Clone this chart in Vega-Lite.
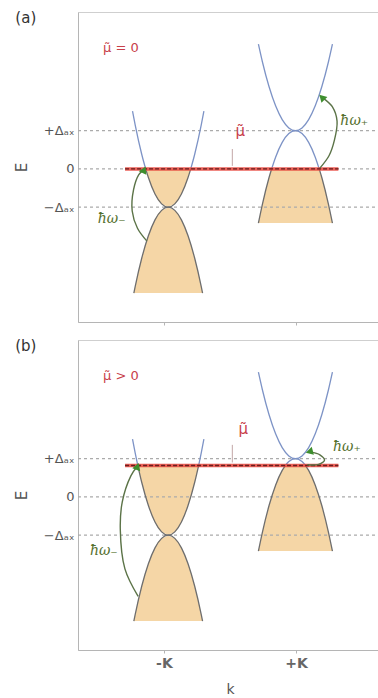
{
"$schema": "https://vega.github.io/schema/vega-lite/v6.json",
"padding": {"left": 13, "top": 10, "right": 0, "bottom": 0},
"spacing": 12,
"datasets": {
"bands": [
{"p":"a","g":"a1","st":"empty","k":-1.475,"E":1.51},{"p":"a","g":"a1","st":"empty","k":-1.435,"E":1.15},{"p":"a","g":"a1","st":"empty","k":-1.335,"E":0.376},{"p":"a","g":"a1","st":"empty","k":-1.276,"E":0},
{"p":"a","g":"a2","st":"filled","k":-1.276,"E":0},{"p":"a","g":"a2","st":"filled","k":-1.235,"E":-0.226},{"p":"a","g":"a2","st":"filled","k":-1.135,"E":-0.656},{"p":"a","g":"a2","st":"filled","k":-1.035,"E":-0.914},{"p":"a","g":"a2","st":"filled","k":-0.935,"E":-1},{"p":"a","g":"a2","st":"filled","k":-0.835,"E":-0.914},{"p":"a","g":"a2","st":"filled","k":-0.735,"E":-0.656},{"p":"a","g":"a2","st":"filled","k":-0.635,"E":-0.226},{"p":"a","g":"a2","st":"filled","k":-0.594,"E":0},
{"p":"a","g":"a3","st":"empty","k":-0.594,"E":0},{"p":"a","g":"a3","st":"empty","k":-0.535,"E":0.376},{"p":"a","g":"a3","st":"empty","k":-0.435,"E":1.15},{"p":"a","g":"a3","st":"empty","k":-0.395,"E":1.51},
{"p":"a","g":"a4","st":"filled","k":-1.455,"E":-3.244},{"p":"a","g":"a4","st":"filled","k":-1.435,"E":-3.075},{"p":"a","g":"a4","st":"filled","k":-1.335,"E":-2.328},{"p":"a","g":"a4","st":"filled","k":-1.235,"E":-1.747},{"p":"a","g":"a4","st":"filled","k":-1.135,"E":-1.332},{"p":"a","g":"a4","st":"filled","k":-1.035,"E":-1.083},{"p":"a","g":"a4","st":"filled","k":-0.935,"E":-1},{"p":"a","g":"a4","st":"filled","k":-0.835,"E":-1.083},{"p":"a","g":"a4","st":"filled","k":-0.735,"E":-1.332},{"p":"a","g":"a4","st":"filled","k":-0.635,"E":-1.747},{"p":"a","g":"a4","st":"filled","k":-0.535,"E":-2.328},{"p":"a","g":"a4","st":"filled","k":-0.435,"E":-3.075},{"p":"a","g":"a4","st":"filled","k":-0.415,"E":-3.244},
{"p":"a","g":"a5","st":"empty","k":0.43,"E":3.258},{"p":"a","g":"a5","st":"empty","k":0.49,"E":2.8},{"p":"a","g":"a5","st":"empty","k":0.59,"E":2.152},{"p":"a","g":"a5","st":"empty","k":0.69,"E":1.648},{"p":"a","g":"a5","st":"empty","k":0.79,"E":1.288},{"p":"a","g":"a5","st":"empty","k":0.89,"E":1.072},{"p":"a","g":"a5","st":"empty","k":0.99,"E":1},{"p":"a","g":"a5","st":"empty","k":1.09,"E":1.072},{"p":"a","g":"a5","st":"empty","k":1.19,"E":1.288},{"p":"a","g":"a5","st":"empty","k":1.29,"E":1.648},{"p":"a","g":"a5","st":"empty","k":1.39,"E":2.152},{"p":"a","g":"a5","st":"empty","k":1.49,"E":2.8},{"p":"a","g":"a5","st":"empty","k":1.55,"E":3.258},
{"p":"a","g":"a6","st":"filled","k":0.43,"E":-1.415},{"p":"a","g":"a6","st":"filled","k":0.49,"E":-0.925},{"p":"a","g":"a6","st":"filled","k":0.59,"E":-0.232},{"p":"a","g":"a6","st":"filled","k":0.63,"E":0},
{"p":"a","g":"a7","st":"empty","k":0.63,"E":0},{"p":"a","g":"a7","st":"empty","k":0.69,"E":0.307},{"p":"a","g":"a7","st":"empty","k":0.79,"E":0.692},{"p":"a","g":"a7","st":"empty","k":0.89,"E":0.923},{"p":"a","g":"a7","st":"empty","k":0.99,"E":1},{"p":"a","g":"a7","st":"empty","k":1.09,"E":0.923},{"p":"a","g":"a7","st":"empty","k":1.19,"E":0.692},{"p":"a","g":"a7","st":"empty","k":1.29,"E":0.307},{"p":"a","g":"a7","st":"empty","k":1.35,"E":0},
{"p":"a","g":"a8","st":"filled","k":1.35,"E":0},{"p":"a","g":"a8","st":"filled","k":1.39,"E":-0.232},{"p":"a","g":"a8","st":"filled","k":1.49,"E":-0.925},{"p":"a","g":"a8","st":"filled","k":1.55,"E":-1.415},
{"p":"b","g":"b1","st":"empty","k":-1.475,"E":1.51},{"p":"b","g":"b1","st":"empty","k":-1.435,"E":1.15},{"p":"b","g":"b1","st":"empty","k":-1.395,"E":0.82},
{"p":"b","g":"b2","st":"filled","k":-1.395,"E":0.82},{"p":"b","g":"b2","st":"filled","k":-1.335,"E":0.376},{"p":"b","g":"b2","st":"filled","k":-1.235,"E":-0.226},{"p":"b","g":"b2","st":"filled","k":-1.135,"E":-0.656},{"p":"b","g":"b2","st":"filled","k":-1.035,"E":-0.914},{"p":"b","g":"b2","st":"filled","k":-0.935,"E":-1},{"p":"b","g":"b2","st":"filled","k":-0.835,"E":-0.914},{"p":"b","g":"b2","st":"filled","k":-0.735,"E":-0.656},{"p":"b","g":"b2","st":"filled","k":-0.635,"E":-0.226},{"p":"b","g":"b2","st":"filled","k":-0.535,"E":0.376},{"p":"b","g":"b2","st":"filled","k":-0.475,"E":0.82},
{"p":"b","g":"b3","st":"empty","k":-0.475,"E":0.82},{"p":"b","g":"b3","st":"empty","k":-0.435,"E":1.15},{"p":"b","g":"b3","st":"empty","k":-0.395,"E":1.51},
{"p":"b","g":"b4","st":"filled","k":-1.455,"E":-3.244},{"p":"b","g":"b4","st":"filled","k":-1.435,"E":-3.075},{"p":"b","g":"b4","st":"filled","k":-1.335,"E":-2.328},{"p":"b","g":"b4","st":"filled","k":-1.235,"E":-1.747},{"p":"b","g":"b4","st":"filled","k":-1.135,"E":-1.332},{"p":"b","g":"b4","st":"filled","k":-1.035,"E":-1.083},{"p":"b","g":"b4","st":"filled","k":-0.935,"E":-1},{"p":"b","g":"b4","st":"filled","k":-0.835,"E":-1.083},{"p":"b","g":"b4","st":"filled","k":-0.735,"E":-1.332},{"p":"b","g":"b4","st":"filled","k":-0.635,"E":-1.747},{"p":"b","g":"b4","st":"filled","k":-0.535,"E":-2.328},{"p":"b","g":"b4","st":"filled","k":-0.435,"E":-3.075},{"p":"b","g":"b4","st":"filled","k":-0.415,"E":-3.244},
{"p":"b","g":"b5","st":"empty","k":0.43,"E":3.258},{"p":"b","g":"b5","st":"empty","k":0.49,"E":2.8},{"p":"b","g":"b5","st":"empty","k":0.59,"E":2.152},{"p":"b","g":"b5","st":"empty","k":0.69,"E":1.648},{"p":"b","g":"b5","st":"empty","k":0.79,"E":1.288},{"p":"b","g":"b5","st":"empty","k":0.89,"E":1.072},{"p":"b","g":"b5","st":"empty","k":0.99,"E":1},{"p":"b","g":"b5","st":"empty","k":1.09,"E":1.072},{"p":"b","g":"b5","st":"empty","k":1.19,"E":1.288},{"p":"b","g":"b5","st":"empty","k":1.29,"E":1.648},{"p":"b","g":"b5","st":"empty","k":1.39,"E":2.152},{"p":"b","g":"b5","st":"empty","k":1.49,"E":2.8},{"p":"b","g":"b5","st":"empty","k":1.55,"E":3.258},
{"p":"b","g":"b6","st":"filled","k":0.43,"E":-1.415},{"p":"b","g":"b6","st":"filled","k":0.49,"E":-0.925},{"p":"b","g":"b6","st":"filled","k":0.59,"E":-0.232},{"p":"b","g":"b6","st":"filled","k":0.69,"E":0.307},{"p":"b","g":"b6","st":"filled","k":0.79,"E":0.692},{"p":"b","g":"b6","st":"filled","k":0.837,"E":0.82},
{"p":"b","g":"b7","st":"empty","k":0.837,"E":0.82},{"p":"b","g":"b7","st":"empty","k":0.89,"E":0.923},{"p":"b","g":"b7","st":"empty","k":0.99,"E":1},{"p":"b","g":"b7","st":"empty","k":1.09,"E":0.923},{"p":"b","g":"b7","st":"empty","k":1.143,"E":0.82},
{"p":"b","g":"b8","st":"filled","k":1.143,"E":0.82},{"p":"b","g":"b8","st":"filled","k":1.19,"E":0.692},{"p":"b","g":"b8","st":"filled","k":1.29,"E":0.307},{"p":"b","g":"b8","st":"filled","k":1.39,"E":-0.232},{"p":"b","g":"b8","st":"filled","k":1.49,"E":-0.925},{"p":"b","g":"b8","st":"filled","k":1.55,"E":-1.415}
],
"fills": [
{"p":"a","g":"L","E":-3.244,"k":-1.455,"k2":-0.415},{"p":"a","g":"L","E":-3.075,"k":-1.435,"k2":-0.435},{"p":"a","g":"L","E":-2.328,"k":-1.335,"k2":-0.535},{"p":"a","g":"L","E":-1.747,"k":-1.235,"k2":-0.635},{"p":"a","g":"L","E":-1.332,"k":-1.135,"k2":-0.735},{"p":"a","g":"L","E":-1.083,"k":-1.035,"k2":-0.835},{"p":"a","g":"L","E":-1.0,"k":-0.935,"k2":-0.935},{"p":"a","g":"L","E":-0.914,"k":-1.035,"k2":-0.835},{"p":"a","g":"L","E":-0.656,"k":-1.135,"k2":-0.735},{"p":"a","g":"L","E":-0.226,"k":-1.235,"k2":-0.635},{"p":"a","g":"L","E":0,"k":-1.276,"k2":-0.594},
{"p":"a","g":"R","E":-1.415,"k":0.43,"k2":1.55},{"p":"a","g":"R","E":-0.925,"k":0.49,"k2":1.49},{"p":"a","g":"R","E":-0.232,"k":0.59,"k2":1.39},{"p":"a","g":"R","E":0,"k":0.63,"k2":1.35},
{"p":"b","g":"L","E":-3.244,"k":-1.455,"k2":-0.415},{"p":"b","g":"L","E":-3.075,"k":-1.435,"k2":-0.435},{"p":"b","g":"L","E":-2.328,"k":-1.335,"k2":-0.535},{"p":"b","g":"L","E":-1.747,"k":-1.235,"k2":-0.635},{"p":"b","g":"L","E":-1.332,"k":-1.135,"k2":-0.735},{"p":"b","g":"L","E":-1.083,"k":-1.035,"k2":-0.835},{"p":"b","g":"L","E":-1.0,"k":-0.935,"k2":-0.935},{"p":"b","g":"L","E":-0.914,"k":-1.035,"k2":-0.835},{"p":"b","g":"L","E":-0.656,"k":-1.135,"k2":-0.735},{"p":"b","g":"L","E":-0.226,"k":-1.235,"k2":-0.635},{"p":"b","g":"L","E":0.376,"k":-1.335,"k2":-0.535},{"p":"b","g":"L","E":0.82,"k":-1.395,"k2":-0.475},
{"p":"b","g":"R","E":-1.415,"k":0.43,"k2":1.55},{"p":"b","g":"R","E":-0.925,"k":0.49,"k2":1.49},{"p":"b","g":"R","E":-0.232,"k":0.59,"k2":1.39},{"p":"b","g":"R","E":0.307,"k":0.69,"k2":1.29},{"p":"b","g":"R","E":0.692,"k":0.79,"k2":1.19},{"p":"b","g":"R","E":0.82,"k":0.837,"k2":1.143}
],
"hlines": [{"E":1,"k":-2.3,"k2":2.3},{"E":0,"k":-2.3,"k2":2.3},{"E":-1,"k":-2.3,"k2":2.3}],
"mu": [{"p":"a","E":0,"k":-1.588,"k2":1.64},{"p":"b","E":0.82,"k":-1.588,"k2":1.64}],
"pointer": [{"p":"a","k":0.035,"E":0.52,"E2":0.08},{"p":"b","k":0.035,"E":1.36,"E2":0.9}],
"arrows": [
{"p":"a","g":"m","o":1,"k":-1.26,"E":-1.88},{"p":"a","g":"m","o":2,"k":-1.4,"E":-1.55},{"p":"a","g":"m","o":3,"k":-1.48,"E":-1.1},{"p":"a","g":"m","o":4,"k":-1.46,"E":-0.55},{"p":"a","g":"m","o":5,"k":-1.38,"E":-0.15},{"p":"a","g":"m","o":6,"k":-1.31,"E":-0.03},
{"p":"a","g":"p","o":1,"k":1.36,"E":0.02},{"p":"a","g":"p","o":2,"k":1.5,"E":0.35},{"p":"a","g":"p","o":3,"k":1.58,"E":0.75},{"p":"a","g":"p","o":4,"k":1.62,"E":1.25},{"p":"a","g":"p","o":5,"k":1.55,"E":1.62},{"p":"a","g":"p","o":6,"k":1.41,"E":1.85},
{"p":"b","g":"m","o":1,"k":-1.39,"E":-2.6},{"p":"b","g":"m","o":2,"k":-1.59,"E":-1.88},{"p":"b","g":"m","o":3,"k":-1.66,"E":-0.85},{"p":"b","g":"m","o":4,"k":-1.63,"E":-0.13},{"p":"b","g":"m","o":5,"k":-1.5,"E":0.55},{"p":"b","g":"m","o":6,"k":-1.41,"E":0.78},
{"p":"b","g":"p","o":1,"k":1.17,"E":0.84},{"p":"b","g":"p","o":2,"k":1.34,"E":0.85},{"p":"b","g":"p","o":3,"k":1.43,"E":0.96},{"p":"b","g":"p","o":4,"k":1.36,"E":1.1},{"p":"b","g":"p","o":5,"k":1.22,"E":1.17}
],
"heads": [
{"p":"a","h":"m","k":-1.3,"E":-0.02},{"p":"a","h":"p","k":1.39,"E":1.87},
{"p":"b","h":"m","k":-1.4,"E":0.8},{"p":"b","h":"p","k":1.2,"E":1.18}
],
"labels": [
{"p":"a","kind":"panel","t":"(a)","k":-3.09,"E":3.94},
{"p":"b","kind":"panel","t":"(b)","k":-3.09,"E":3.94},
{"p":"a","kind":"mu","t":"μ̃ = 0","k":-1.92,"E":3.16},
{"p":"b","kind":"mu","t":"μ̃ > 0","k":-1.92,"E":3.16},
{"p":"a","kind":"mut","t":"μ̃","k":0.155,"E":0.98},
{"p":"b","kind":"mut","t":"μ̃","k":0.2,"E":1.78},
{"p":"a","kind":"hw","t":"ħω₋","k":-2.0,"E":-1.3},
{"p":"a","kind":"hw","t":"ħω₊","k":1.67,"E":1.25},
{"p":"b","kind":"hw","t":"ħω₋","k":-2.12,"E":-1.41},
{"p":"b","kind":"hw","t":"ħω₊","k":1.56,"E":1.31}
]
},
"vconcat": [
{
"width": 304, "height": 310,
"layer": [
{"data":{"name":"fills"},"transform":[{"filter":"datum.p=='a'"}],"mark":{"type":"area","orient":"horizontal","interpolate":"monotone","color":"#f5d6a6"},
 "encoding":{"y":{"field":"E","type":"quantitative","scale":{"domain":[-4,4.1],"nice":false,"zero":false},"axis":{"values":[-1,0,1],"labelExpr":"datum.value > 0.5 ? '+Δₐₓ' : (datum.value < -0.5 ? '−Δₐₓ' : '0')","title":"E"}},
 "x":{"field":"k","type":"quantitative","scale":{"domain":[-2.3,2.3],"nice":false,"zero":false},"axis":{"values":[-1,1],"labels":false,"title":null,"tickSize":3}},
 "x2":{"field":"k2"},"detail":{"field":"g"}}},
{"data":{"name":"hlines"},"mark":{"type":"rule","color":"#ababab","strokeWidth":1.3,"strokeDash":[3,3]},
 "encoding":{"y":{"field":"E","type":"quantitative","scale":{"domain":[-4,4.1],"nice":false,"zero":false}},"x":{"field":"k","type":"quantitative","scale":{"domain":[-2.3,2.3],"nice":false,"zero":false}},"x2":{"field":"k2"}}},
{"data":{"name":"bands"},"transform":[{"filter":"datum.p=='a'"}],"mark":{"type":"line","interpolate":"monotone","strokeWidth":1.3},
 "encoding":{"y":{"field":"E","type":"quantitative","scale":{"domain":[-4,4.1],"nice":false,"zero":false}},"x":{"field":"k","type":"quantitative","scale":{"domain":[-2.3,2.3],"nice":false,"zero":false}},"detail":{"field":"g"},
 "color":{"field":"st","type":"nominal","scale":{"domain":["empty","filled"],"range":["#7d93c6","#6e6e6e"]},"legend":null}}},
{"data":{"name":"mu"},"transform":[{"filter":"datum.p=='a'"}],"mark":{"type":"rule","color":"#e8453c","strokeWidth":3.5,"opacity":0.85},
 "encoding":{"y":{"field":"E","type":"quantitative","scale":{"domain":[-4,4.1],"nice":false,"zero":false}},"x":{"field":"k","type":"quantitative","scale":{"domain":[-2.3,2.3],"nice":false,"zero":false}},"x2":{"field":"k2"}}},
{"data":{"name":"mu"},"transform":[{"filter":"datum.p=='a'"}],"mark":{"type":"rule","color":"#6a1e1e","strokeWidth":1.4,"strokeDash":[4,2]},
 "encoding":{"y":{"field":"E","type":"quantitative","scale":{"domain":[-4,4.1],"nice":false,"zero":false}},"x":{"field":"k","type":"quantitative","scale":{"domain":[-2.3,2.3],"nice":false,"zero":false}},"x2":{"field":"k2"}}},
{"data":{"name":"pointer"},"transform":[{"filter":"datum.p=='a'"}],"mark":{"type":"rule","color":"#c2a6a6","strokeWidth":1},
 "encoding":{"y":{"field":"E","type":"quantitative","scale":{"domain":[-4,4.1],"nice":false,"zero":false}},"y2":{"field":"E2"},"x":{"field":"k","type":"quantitative","scale":{"domain":[-2.3,2.3],"nice":false,"zero":false}}}},
{"data":{"name":"arrows"},"transform":[{"filter":"datum.p=='a'"}],"mark":{"type":"line","interpolate":"catmull-rom","strokeWidth":1.4,"color":"#5b7347"},
 "encoding":{"y":{"field":"E","type":"quantitative","scale":{"domain":[-4,4.1],"nice":false,"zero":false}},"x":{"field":"k","type":"quantitative","scale":{"domain":[-2.3,2.3],"nice":false,"zero":false}},"detail":{"field":"g"},"order":{"field":"o","type":"quantitative"}}},
{"data":{"name":"heads"},"transform":[{"filter":"datum.p=='a' && datum.h=='m'"}],"mark":{"type":"point","shape":"triangle-up","filled":true,"size":70,"color":"#3e8e2e","opacity":1,"angle":25},
 "encoding":{"y":{"field":"E","type":"quantitative","scale":{"domain":[-4,4.1],"nice":false,"zero":false}},"x":{"field":"k","type":"quantitative","scale":{"domain":[-2.3,2.3],"nice":false,"zero":false}}}},
{"data":{"name":"heads"},"transform":[{"filter":"datum.p=='a' && datum.h=='p'"}],"mark":{"type":"point","shape":"triangle-up","filled":true,"size":70,"color":"#3e8e2e","opacity":1,"angle":315},
 "encoding":{"y":{"field":"E","type":"quantitative","scale":{"domain":[-4,4.1],"nice":false,"zero":false}},"x":{"field":"k","type":"quantitative","scale":{"domain":[-2.3,2.3],"nice":false,"zero":false}}}},
{"data":{"name":"labels"},"transform":[{"filter":"datum.p=='a' && datum.kind=='panel'"}],"mark":{"type":"text","fontSize":15,"color":"#333333","align":"center","baseline":"middle"},
 "encoding":{"y":{"field":"E","type":"quantitative","scale":{"domain":[-4,4.1],"nice":false,"zero":false}},"x":{"field":"k","type":"quantitative","scale":{"domain":[-2.3,2.3],"nice":false,"zero":false}},"text":{"field":"t"}}},
{"data":{"name":"labels"},"transform":[{"filter":"datum.p=='a' && datum.kind=='mu'"}],"mark":{"type":"text","fontSize":13,"color":"#c8404a","align":"left","baseline":"middle"},
 "encoding":{"y":{"field":"E","type":"quantitative","scale":{"domain":[-4,4.1],"nice":false,"zero":false}},"x":{"field":"k","type":"quantitative","scale":{"domain":[-2.3,2.3],"nice":false,"zero":false}},"text":{"field":"t"}}},
{"data":{"name":"labels"},"transform":[{"filter":"datum.p=='a' && datum.kind=='mut'"}],"mark":{"type":"text","fontSize":15,"color":"#c8404a","align":"center","baseline":"middle"},
 "encoding":{"y":{"field":"E","type":"quantitative","scale":{"domain":[-4,4.1],"nice":false,"zero":false}},"x":{"field":"k","type":"quantitative","scale":{"domain":[-2.3,2.3],"nice":false,"zero":false}},"text":{"field":"t"}}},
{"data":{"name":"labels"},"transform":[{"filter":"datum.p=='a' && datum.kind=='hw'"}],"mark":{"type":"text","fontSize":14,"font":"DejaVu Serif","fontStyle":"italic","color":"#55702e","align":"left","baseline":"middle"},
 "encoding":{"y":{"field":"E","type":"quantitative","scale":{"domain":[-4,4.1],"nice":false,"zero":false}},"x":{"field":"k","type":"quantitative","scale":{"domain":[-2.3,2.3],"nice":false,"zero":false}},"text":{"field":"t"}}}
]
},
{
"width": 304, "height": 310,
"layer": [
{"data":{"name":"fills"},"transform":[{"filter":"datum.p=='b'"}],"mark":{"type":"area","orient":"horizontal","interpolate":"monotone","color":"#f5d6a6"},
 "encoding":{"y":{"field":"E","type":"quantitative","scale":{"domain":[-4,4.1],"nice":false,"zero":false},"axis":{"values":[-1,0,1],"labelExpr":"datum.value > 0.5 ? '+Δₐₓ' : (datum.value < -0.5 ? '−Δₐₓ' : '0')","title":"E"}},
 "x":{"field":"k","type":"quantitative","scale":{"domain":[-2.3,2.3],"nice":false,"zero":false},"axis":{"values":[-1,1],"labelExpr":"datum.value < 0 ? '-K' : '+K'","title":"k","tickSize":3,"labelFontSize":14,"labelFontWeight":"bold","labelColor":"#666666","labelPadding":3,"titleFontSize":14,"titleFontWeight":"normal","titlePadding":12}},
 "x2":{"field":"k2"},"detail":{"field":"g"}}},
{"data":{"name":"hlines"},"mark":{"type":"rule","color":"#ababab","strokeWidth":1.3,"strokeDash":[3,3]},
 "encoding":{"y":{"field":"E","type":"quantitative","scale":{"domain":[-4,4.1],"nice":false,"zero":false}},"x":{"field":"k","type":"quantitative","scale":{"domain":[-2.3,2.3],"nice":false,"zero":false}},"x2":{"field":"k2"}}},
{"data":{"name":"bands"},"transform":[{"filter":"datum.p=='b'"}],"mark":{"type":"line","interpolate":"monotone","strokeWidth":1.3},
 "encoding":{"y":{"field":"E","type":"quantitative","scale":{"domain":[-4,4.1],"nice":false,"zero":false}},"x":{"field":"k","type":"quantitative","scale":{"domain":[-2.3,2.3],"nice":false,"zero":false}},"detail":{"field":"g"},
 "color":{"field":"st","type":"nominal","scale":{"domain":["empty","filled"],"range":["#7d93c6","#6e6e6e"]},"legend":null}}},
{"data":{"name":"mu"},"transform":[{"filter":"datum.p=='b'"}],"mark":{"type":"rule","color":"#e8453c","strokeWidth":3.5,"opacity":0.85},
 "encoding":{"y":{"field":"E","type":"quantitative","scale":{"domain":[-4,4.1],"nice":false,"zero":false}},"x":{"field":"k","type":"quantitative","scale":{"domain":[-2.3,2.3],"nice":false,"zero":false}},"x2":{"field":"k2"}}},
{"data":{"name":"mu"},"transform":[{"filter":"datum.p=='b'"}],"mark":{"type":"rule","color":"#6a1e1e","strokeWidth":1.4,"strokeDash":[4,2]},
 "encoding":{"y":{"field":"E","type":"quantitative","scale":{"domain":[-4,4.1],"nice":false,"zero":false}},"x":{"field":"k","type":"quantitative","scale":{"domain":[-2.3,2.3],"nice":false,"zero":false}},"x2":{"field":"k2"}}},
{"data":{"name":"pointer"},"transform":[{"filter":"datum.p=='b'"}],"mark":{"type":"rule","color":"#c2a6a6","strokeWidth":1},
 "encoding":{"y":{"field":"E","type":"quantitative","scale":{"domain":[-4,4.1],"nice":false,"zero":false}},"y2":{"field":"E2"},"x":{"field":"k","type":"quantitative","scale":{"domain":[-2.3,2.3],"nice":false,"zero":false}}}},
{"data":{"name":"arrows"},"transform":[{"filter":"datum.p=='b'"}],"mark":{"type":"line","interpolate":"catmull-rom","strokeWidth":1.4,"color":"#5b7347"},
 "encoding":{"y":{"field":"E","type":"quantitative","scale":{"domain":[-4,4.1],"nice":false,"zero":false}},"x":{"field":"k","type":"quantitative","scale":{"domain":[-2.3,2.3],"nice":false,"zero":false}},"detail":{"field":"g"},"order":{"field":"o","type":"quantitative"}}},
{"data":{"name":"heads"},"transform":[{"filter":"datum.p=='b' && datum.h=='m'"}],"mark":{"type":"point","shape":"triangle-up","filled":true,"size":70,"color":"#3e8e2e","opacity":1,"angle":20},
 "encoding":{"y":{"field":"E","type":"quantitative","scale":{"domain":[-4,4.1],"nice":false,"zero":false}},"x":{"field":"k","type":"quantitative","scale":{"domain":[-2.3,2.3],"nice":false,"zero":false}}}},
{"data":{"name":"heads"},"transform":[{"filter":"datum.p=='b' && datum.h=='p'"}],"mark":{"type":"point","shape":"triangle-up","filled":true,"size":70,"color":"#3e8e2e","opacity":1,"angle":255},
 "encoding":{"y":{"field":"E","type":"quantitative","scale":{"domain":[-4,4.1],"nice":false,"zero":false}},"x":{"field":"k","type":"quantitative","scale":{"domain":[-2.3,2.3],"nice":false,"zero":false}}}},
{"data":{"name":"labels"},"transform":[{"filter":"datum.p=='b' && datum.kind=='panel'"}],"mark":{"type":"text","fontSize":15,"color":"#333333","align":"center","baseline":"middle"},
 "encoding":{"y":{"field":"E","type":"quantitative","scale":{"domain":[-4,4.1],"nice":false,"zero":false}},"x":{"field":"k","type":"quantitative","scale":{"domain":[-2.3,2.3],"nice":false,"zero":false}},"text":{"field":"t"}}},
{"data":{"name":"labels"},"transform":[{"filter":"datum.p=='b' && datum.kind=='mu'"}],"mark":{"type":"text","fontSize":13,"color":"#c8404a","align":"left","baseline":"middle"},
 "encoding":{"y":{"field":"E","type":"quantitative","scale":{"domain":[-4,4.1],"nice":false,"zero":false}},"x":{"field":"k","type":"quantitative","scale":{"domain":[-2.3,2.3],"nice":false,"zero":false}},"text":{"field":"t"}}},
{"data":{"name":"labels"},"transform":[{"filter":"datum.p=='b' && datum.kind=='mut'"}],"mark":{"type":"text","fontSize":15,"color":"#c8404a","align":"center","baseline":"middle"},
 "encoding":{"y":{"field":"E","type":"quantitative","scale":{"domain":[-4,4.1],"nice":false,"zero":false}},"x":{"field":"k","type":"quantitative","scale":{"domain":[-2.3,2.3],"nice":false,"zero":false}},"text":{"field":"t"}}},
{"data":{"name":"labels"},"transform":[{"filter":"datum.p=='b' && datum.kind=='hw'"}],"mark":{"type":"text","fontSize":14,"font":"DejaVu Serif","fontStyle":"italic","color":"#55702e","align":"left","baseline":"middle"},
 "encoding":{"y":{"field":"E","type":"quantitative","scale":{"domain":[-4,4.1],"nice":false,"zero":false}},"x":{"field":"k","type":"quantitative","scale":{"domain":[-2.3,2.3],"nice":false,"zero":false}},"text":{"field":"t"}}}
]
}
],
"config": {
"font": "DejaVu Sans",
"view": {"stroke": "#cfcfcf", "strokeWidth": 1},
"axis": {"grid": false, "domainColor": "#b5b5b5", "tickColor": "#b5b5b5", "labelColor": "#555555", "titleColor": "#555555"},
"axisY": {"tickSize": 0, "labelPadding": 4, "labelFontSize": 13, "titleFontSize": 15, "titleFontWeight": "normal", "titlePadding": 14}
}
}
